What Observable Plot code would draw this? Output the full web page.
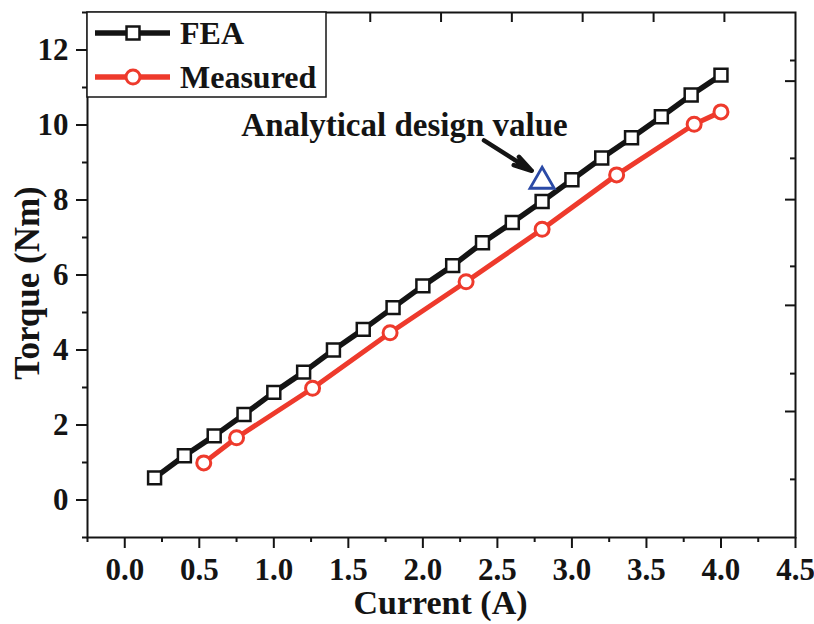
<!DOCTYPE html>
<html><head><meta charset="utf-8">
<script src="https://cdn.jsdelivr.net/npm/d3@7"></script>
<script src="https://cdn.jsdelivr.net/npm/@observablehq/plot@0.6"></script>
<style>body{margin:0;background:#fff} #chart svg{display:block}</style>
</head><body><div id="chart"></div>
<script>
// ---- data ----
const feaCurrent = [0.2,0.4,0.6,0.8,1.0,1.2,1.4,1.6,1.8,2.0,2.2,2.4,2.6,2.8,3.0,3.2,3.4,3.6,3.8,4.0];
const feaTorque  = [0.59,1.18,1.71,2.28,2.87,3.41,4.0,4.55,5.13,5.71,6.25,6.86,7.4,7.96,8.54,9.12,9.66,10.22,10.8,11.33];
const measCurrent = [0.53,0.75,1.26,1.78,2.29,2.8,3.3,3.82,4.0];
const measTorque  = [0.99,1.66,2.98,4.46,5.82,7.22,8.67,10.02,10.35];
const designCurrent = [2.8];
const designTorque  = [8.5];
const seriesNames = ["FEA", "Measured"];
const annotationText = "Analytical design value";
const annotationCurrent = [1.877];
const annotationTorque = [10.0];
const arrowCurrent = [2.41, 2.73];   // tail, tip
const arrowTorque  = [9.59, 8.78];
const xLabel = "Current (A)";
const yLabel = "Torque (Nm)";
const xTicks = [0,0.5,1,1.5,2,2.5,3,3.5,4,4.5];
const xMinor = [-0.25,0.25,0.75,1.25,1.75,2.25,2.75,3.25,3.75,4.25];
const yTicks = [0,2,4,6,8,10,12];
const yMinor = [-1,1,3,5,7,9,11,13];
const topTicks = [0.221,0.696,1.172,1.647,2.122,2.597,3.072,3.548,4.023];
const rightMajor = [11.17,8.01,5.19,2.36];
const rightMinor = [11.72,9.11,6.23,3.37,0.55];

// ---- build ----
const font = "'Liberation Serif','Times New Roman',serif";
const black = "#141414", red = "#ee3a2c", blue = "#2b4aa6";
const fea = feaCurrent.map((x, i) => ({x, y: feaTorque[i]}));
const meas = measCurrent.map((x, i) => ({x, y: measTorque[i]}));
const design = designCurrent.map((x, i) => ({x, y: designTorque[i]}));
const arrow = [{x1: arrowCurrent[0], y1: arrowTorque[0], x2: arrowCurrent[1], y2: arrowTorque[1]}];
const note = [{x: annotationCurrent[0], y: annotationTorque[0], t: annotationText}];
const blank = () => "";

const plot = Plot.plot({
  width: 814, height: 624,
  marginLeft: 87, marginRight: 19, marginTop: 12, marginBottom: 87,
  x: {domain: [-0.25, 4.5]},
  y: {domain: [-1, 13]},
  style: {fontFamily: font, fontWeight: "bold", background: "white", color: black},
  marks: [
    Plot.axisX(xTicks, {tickSize: 11, tickPadding: 9, fontSize: 31, fontWeight: "bold", strokeWidth: 2, label: null, tickFormat: d => d.toFixed(1)}),
    Plot.axisX(xMinor, {tickSize: 5, strokeWidth: 2, label: null, tickFormat: blank}),
    Plot.axisX(topTicks, {anchor: "top", tickSize: -9, strokeWidth: 2, label: null, tickFormat: blank}),
    Plot.axisY(yTicks, {tickSize: 11, tickPadding: 8, fontSize: 31, fontWeight: "bold", strokeWidth: 2, label: null, tickFormat: d => String(d)}),
    Plot.axisY(yMinor, {tickSize: 5, strokeWidth: 2, label: null, tickFormat: blank}),
    Plot.axisY(rightMajor, {anchor: "right", tickSize: -11, strokeWidth: 2, label: null, tickFormat: blank}),
    Plot.axisY(rightMinor, {anchor: "right", tickSize: -6, strokeWidth: 2, label: null, tickFormat: blank}),
    Plot.frame({stroke: black, strokeWidth: 2}),
    Plot.line(fea, {x: "x", y: "y", stroke: black, strokeWidth: 5.5}),
    Plot.dot(fea, {x: "x", y: "y", symbol: "square", r: 7.3, fill: "white", stroke: black, strokeWidth: 2.5}),
    Plot.line(meas, {x: "x", y: "y", stroke: red, strokeWidth: 5}),
    Plot.dot(meas, {x: "x", y: "y", symbol: "circle", r: 7, fill: "white", stroke: red, strokeWidth: 3}),
    Plot.dot(design, {x: "x", y: "y", symbol: "triangle", r: 9, fill: "none", stroke: blue, strokeWidth: 2.8}),
    Plot.arrow(arrow, {x1: "x1", y1: "y1", x2: "x2", y2: "y2", stroke: black, strokeWidth: 4.5, headLength: 22, headAngle: 30}),
    Plot.text(note, {x: "x", y: "y", text: "t", fontSize: 33, fontWeight: "bold", fill: black}),
    Plot.text([xLabel], {frameAnchor: "bottom", textAnchor: "middle", lineAnchor: "middle", dy: 66, dx: -1, fontSize: 34, fontWeight: "bold", fill: black}),
    Plot.text([yLabel], {frameAnchor: "left", textAnchor: "middle", lineAnchor: "middle", dx: -60, dy: 8, rotate: -90, fontSize: 35, fontWeight: "bold", fill: black})
  ]
});
document.getElementById("chart").appendChild(plot);

// ---- legend (inside the frame, top-left) ----
const svg = d3.select(plot);
const g = svg.append("g").attr("font-family", font).attr("font-weight", "bold").attr("text-anchor", "start");
g.append("rect").attr("x", 87).attr("y", 12).attr("width", 239).attr("height", 85)
  .attr("fill", "white").attr("stroke", black).attr("stroke-width", 1.5);
const legendItems = [
  {name: seriesNames[0], color: black, symbol: d3.symbolSquare, size: Math.PI * 7.3 * 7.3, sw: 2.5, cy: 33},
  {name: seriesNames[1], color: red, symbol: d3.symbolCircle, size: Math.PI * 7 * 7, sw: 3, cy: 77}
];
for (const it of legendItems) {
  g.append("line").attr("x1", 95).attr("x2", 170).attr("y1", it.cy).attr("y2", it.cy)
    .attr("stroke", it.color).attr("stroke-width", 5.5);
  g.append("path").attr("d", d3.symbol(it.symbol, it.size)()).attr("transform", `translate(133,${it.cy})`)
    .attr("fill", "white").attr("stroke", it.color).attr("stroke-width", it.sw);
  g.append("text").attr("x", 180).attr("y", it.cy).attr("dy", "0.35em").attr("font-size", 32)
    .attr("fill", black).attr("text-anchor", "start").text(it.name);
}
</script>
</body></html>
